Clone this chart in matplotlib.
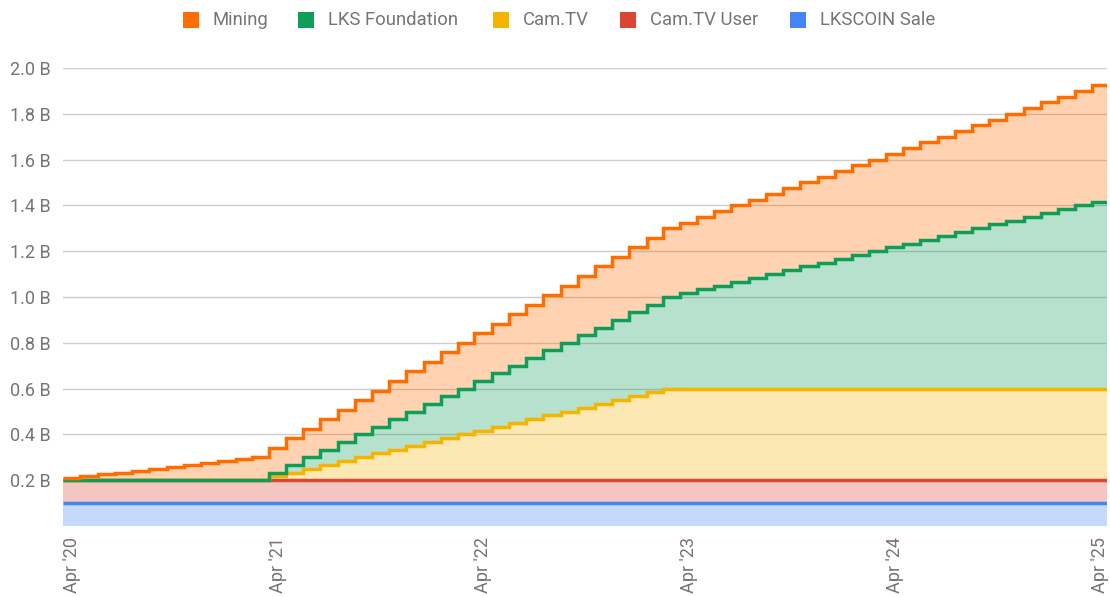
import numpy as np
import pandas as pd
import matplotlib
matplotlib.use("Agg")
import matplotlib.pyplot as plt
import matplotlib.dates as mdates
from matplotlib.patches import Rectangle

plt.rcParams['font.family'] = ['Roboto', 'DejaVu Sans']

# monthly points, Apr 2020 .. Apr 2025 (values in millions of coins)
months = pd.date_range('2020-04-01', periods=61, freq='MS')

lkscoin_sale = [100] * 61
camtv_user = [100] * 61
camtv = [0] * 12 + [16.7, 33.3, 50, 66.7, 83.3, 100, 116.7, 133.3, 150, 166.7, 183.3, 200,
                    216.7, 233.3, 250, 266.7, 283.3, 300, 316.7, 333.3, 350, 366.7, 383.3, 400] + [400] * 25
lks_foundation = [0] * 12 + [16.7, 33.3, 50, 66.7, 83.3, 100, 116.7, 133.3, 150, 166.7, 183.3, 200,
                             216.7, 233.3, 250, 266.7, 283.3, 300, 316.7, 333.3, 350, 366.7, 383.3, 400,
                             416.7, 433.3, 450, 466.7, 483.3, 500, 516.7, 533.3, 550, 566.7, 583.3, 600,
                             616.7, 633.3, 650, 666.7, 683.3, 700, 716.7, 733.3, 750, 766.7, 783.3, 800,
                             816.7]
mining = [8.3, 16.7, 25, 33.3, 41.7, 50, 58.3, 66.7, 75, 83.3, 91.7, 100,
          108.3, 116.7, 125, 133.3, 141.7, 150, 158.3, 166.7, 175, 183.3, 191.7, 200,
          208.3, 216.7, 225, 233.3, 241.7, 250, 258.3, 266.7, 275, 283.3, 291.7, 300,
          308.3, 316.7, 325, 333.3, 341.7, 350, 358.3, 366.7, 375, 383.3, 391.7, 400,
          408.3, 416.7, 425, 433.3, 441.7, 450, 458.3, 466.7, 475, 483.3, 491.7, 500,
          508.3]

names = ['LKSCOIN Sale', 'Cam.TV User', 'Cam.TV', 'LKS Foundation', 'Mining']
series = [lkscoin_sale, camtv_user, camtv, lks_foundation, mining]
colors = ['#4285F4', '#DB4437', '#F4B400', '#0F9D58', '#FF6D01']

x_ticks = pd.date_range('2020-04-01', periods=6, freq='12MS')
x_labels = ["Apr '20", "Apr '21", "Apr '22", "Apr '23", "Apr '24", "Apr '25"]
y_ticks = [0.2, 0.4, 0.6, 0.8, 1.0, 1.2, 1.4, 1.6, 1.8, 2.0]

W, H = 1110, 597
fig = plt.figure(figsize=(W / 100, H / 100), dpi=100)
ax = fig.add_axes([63 / W, (H - 526) / H, (1107 - 63) / W, (526 - 68) / H])

# step edges: halfway between months, stretched to the plot edges
xn = mdates.date2num(months)
left = xn[0] - 16
right = xn[-1] + 12
edges = np.concatenate([[left], (xn[:-1] + xn[1:]) / 2, [right]])

stack = np.cumsum(np.array(series, dtype=float) / 1000.0, axis=0)
base = np.zeros(len(months))
for i, col in enumerate(colors):
    ax.stairs(stack[i], edges, baseline=base, fill=True, color=col, alpha=0.3, linewidth=0, zorder=2)
    base = stack[i]
for i, col in enumerate(colors):
    ax.stairs(stack[i], edges, baseline=None, color=col, linewidth=2.5, zorder=3 + i)

ax.set_xlim(left, right)
ax.set_ylim(0, 2.0)
ax.set_yticks(y_ticks)
ax.set_yticklabels([f'{v:.1f} B' for v in y_ticks])
ax.set_xticks(mdates.date2num(x_ticks))
ax.set_xticklabels(x_labels, rotation=90, va='top', ha='center')

ax.grid(axis='y', color='#cccccc', linewidth=1)
ax.set_axisbelow(True)
for s in ax.spines.values():
    s.set_visible(False)
ax.tick_params(length=0, labelsize=13, colors='#757575', pad=9)
ax.tick_params(axis='x', pad=8)

# legend across the top
leg_items = [('Mining', '#FF6D01', 183), ('LKS Foundation', '#0F9D58', 298),
             ('Cam.TV', '#F4B400', 493), ('Cam.TV User', '#DB4437', 620),
             ('LKSCOIN Sale', '#4285F4', 790)]
for label, col, px in leg_items:
    fig.patches.append(Rectangle((px / W, (H - 28) / H), 16 / W, 16 / H,
                                 transform=fig.transFigure, facecolor=col, edgecolor='none'))
    fig.text((px + 30) / W, (H - 20) / H, label, fontsize=13.3, color='#757575', va='center', ha='left')

fig.savefig('out.png', dpi=100)
